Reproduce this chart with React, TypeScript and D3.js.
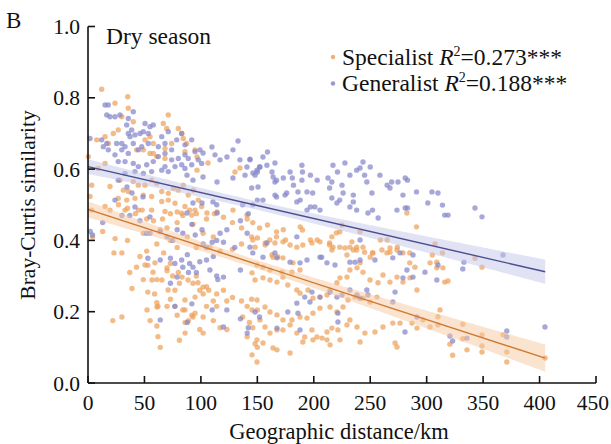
import React from "react";
import * as d3 from "d3";

// Pairwise site comparisons: [geographic distance (km), Bray-Curtis similarity]
const specialistPoints: [number, number][] = [
  [23.9,.785],[35.7,.771],[40.1,.733],[26.8,.710],[22.4,.700],[18.0,.672],[15.1,.691],[7.7,.682],[43.1,.654],[49.0,.654],
  [54.9,.644],[57.8,.644],[60.9,.635],[68.2,.630],[71.1,.752],[66.7,.728],[69.7,.714],[80.0,.714],[83.0,.700],[74.1,.672],
  [68.2,.658],[57.8,.672],[54.9,.691],[50.5,.682],[84.4,.686],[85.9,.649],[87.4,.672],[94.8,.654],[15.1,.616],[9.1,.602],
  [3.3,.555],[1.8,.523],[19.5,.551],[28.3,.569],[31.3,.541],[35.7,.537],[40.1,.565],[44.6,.555],[50.5,.555],[56.4,.569],
  [60.9,.560],[65.3,.537],[71.1,.532],[75.6,.546],[80.0,.541],[84.4,.555],[88.8,.527],[93.3,.541],[97.7,.513],[100.7,.495],
  [94.8,.485],[85.9,.495],[77.1,.504],[71.1,.513],[65.3,.509],[56.4,.523],[49.0,.527],[41.6,.518],[34.3,.513],[26.8,.518],
  [15.1,.495],[32.8,.485],[44.6,.485],[56.4,.485],[68.2,.481],[83.0,.476],[91.9,.471],[3.3,.485],[0.3,.635],
  [12.1,.824],[35.2,.803],[29.9,.747],[106.3,.617],[130.2,.592],[134.6,.603],[96.6,.634],[96.6,.597],[105.4,.477],[114.3,.480],
  [128.4,.485],[140.8,.471],
  [4,.41],[13,.425],[24,.405],[30,.365],[23,.365],[37,.31],[39,.265],[22,.175],[30,.185],[46,.355],
  [43,.325],[52,.37],[53,.33],[49,.29],[61,.29],[59,.25],[61,.225],[62,.215],[61,.16],[62,.13],
  [64,.10],[55,.175],[67,.365],[73,.335],[70,.315],[75,.30],[80,.31],[81,.28],[77,.26],[73,.235],
  [70,.215],[77,.215],[79,.19],[84,.205],[86,.17],[86,.14],[81,.12],[89,.175],[92,.19],[93,.185],
  [93,.28],[96,.30],[99,.26],[102,.25],[105,.27],[107,.26],[111,.23],[114,.215],[105,.215],[102,.185],
  [111,.175],[117,.155],[123,.15],[99,.15],[102,.14],[114,.25],[120,.26],[123,.23],[128,.24],[136,.23],
  [141,.215],[145,.235],[150,.205],[137,.185],[143,.17],[146,.155],[141,.13],[148,.11],[150,.10],
  [19.5,.485],[27,.50],[35,.49],[42,.475],[48,.485],[52,.46],[58,.455],[66,.46],[73,.475],[79,.48],
  [84,.47],[90,.485],[96,.475],[105,.46],[112,.475],[120,.465],[128,.45],[136,.435],[141,.46],[146,.45],
  [79,.45],[70,.435],[64,.43],[93,.445],[102,.42],[111,.41],[49,.42],[35,.40],[73,.40],[61,.39],
  [88,.41],[79,.38],[96,.38],[108,.38],[117,.37],[128,.375],[136,.39],[145,.41],
  [50.5,.331],[59.3,.337],[57.6,.311],[70,.323],[56.7,.289],[65.5,.289],[53,.255],[70.9,.261],[83.3,.297],[88.6,.289],
  [97.4,.281],[101.9,.269],[94.8,.241],[85.9,.233],[61.1,.213],[52.3,.205],[85.9,.205],[94.8,.196],
  [152,.435],[159,.443],[167,.424],[173,.43],[188,.438],[190,.429],[175,.401],[167,.41],[161,.401],[150,.407],
  [148,.381],[157,.387],[163,.36],[168,.354],[197,.401],[203,.401],[214,.393],[217,.381],[220,.421],[223,.424],
  [225,.443],[216,.41],[232,.381],[235,.373],[241,.424],[238,.381],[245,.367],[252,.365],[259,.401],[265,.401],
  [267.5,.367],[274,.381],[291,.438],[285,.365],[305,.359],[314,.365],[282.5,.477],
  [146,.401],[157,.393],[165.6,.393],[172.7,.396],[179,.387],[185,.381],[190.3,.387],[198.4,.393],[205.5,.396],[214,.387],
  [216,.373],[223,.381],[227.6,.379],[229.4,.359],[233.8,.396],[238,.373],[243.6,.381],[250,.353],[252.4,.365],[260.4,.373],
  [264.8,.365],[267.5,.379],[273.7,.373],[279,.365],[285,.337],[289.6,.325],[303,.337],[309,.339],[316,.283],
  [163.9,.353],[172.7,.351],[181.6,.337],[187.8,.317],[180.7,.311],[171.8,.311],[161.2,.317],[155,.325],[149.7,.331],[145.3,.309],
  [148,.289],[155,.295],[161.2,.289],[167.4,.283],[172.7,.297],[177,.275],[185,.261],[187.8,.252],[194.9,.261],[199.3,.238],
  [205.5,.241],[211.7,.247],[214.4,.261],[220.5,.281],[223.2,.295],[229.4,.297],[232,.317],[238.3,.323],[241,.337],[243.6,.311],
  [249.8,.289],[256.9,.281],[261.3,.303],[267.5,.283],[273.7,.297],[279,.283],[285.2,.295],[291.4,.261],[256,.241],[249.8,.227],
  [243.6,.238],[236.5,.241],[230.3,.233],[225.9,.213],[220.5,.199],[214.4,.213],[205.5,.210],[199.3,.196],[194,.182],[187.8,.185],
  [180.7,.177],[172.7,.177],[167.4,.191],[161.2,.199],[156.8,.213],[149.7,.233],[145.3,.205],[152.3,.177],[156.8,.157],[161.2,.14],
  [167.4,.149],[172.7,.149],[179,.163],[185,.14],[192,.129],[198.4,.149],[202.8,.129],[207.3,.126],[211.7,.143],[216,.154],
  [221.4,.149],[229.4,.163],[232,.177],[238.3,.157],[245.3,.14],[254.2,.143],[261.3,.157],[270,.168],[276.4,.168],[287,.168],
  [291.4,.154],[296.7,.177],[303,.157],[311.8,.205],[211.7,.121],[223.2,.121],[241,.115],[272,.112],[273.7,.101],[149.7,.121],
  [155,.112],[163.9,.098],[167.4,.093],[179,.084],[190.3,.115],[199.3,.121],[214.4,.107],[149.7,.059],[145.3,.079],
  [307.4,.390],[309,.323],[314.4,.323],[318.9,.286],[342.8,.350],[349,.325],[310,.163],[310,.186],[332,.165],[320.6,.109],
  [323,.078],[332,.124],[335.7,.093],[349,.135],[349,.104],[349,.087],[367.6,.135],[371,.087],[371,.059],[404.8,.07],
];

const generalistPoints: [number, number][] = [
  [15.1,.780],[18.0,.780],[16.6,.752],[19.5,.747],[23.9,.747],[28.3,.752],[35.7,.742],[40.1,.761],[34.3,.724],[38.7,.710],
  [35.7,.700],[37.2,.691],[41.6,.696],[46.1,.700],[12.1,.682],[16.6,.672],[25.4,.672],[29.9,.672],[32.8,.663],[40.1,.672],
  [50.5,.728],[54.9,.719],[57.8,.724],[49.0,.705],[53.4,.700],[65.3,.691],[71.1,.705],[68.2,.672],[62.3,.663],[53.4,.672],
  [47.6,.663],[44.6,.654],[35.7,.644],[29.9,.654],[23.9,.640],[18.0,.654],[13.6,.663],[1.8,.686],[26.8,.621],[32.8,.621],
  [40.1,.616],[44.6,.607],[52.0,.612],[57.8,.621],[62.3,.635],[68.2,.644],[74.1,.654],[78.6,.682],[83.0,.700],[85.9,.668],
  [91.9,.682],[94.8,.649],[99.2,.654],[85.9,.640],[80.0,.630],[74.1,.626],[68.2,.607],[71.1,.593],[77.1,.607],[83.0,.612],
  [88.8,.630],[91.9,.612],[97.7,.626],[100.7,.616],[85.9,.602],[65.3,.597],[56.4,.593],[49.0,.588],[41.6,.593],[32.8,.588],
  [26.8,.569],[23.9,.513],
  [101.9,.645],[112.5,.640],[116.9,.626],[128.4,.654],[123.1,.634],[134.6,.626],[143.5,.628],[140.8,.606],[149.7,.597],[101.9,.578],
  [114.3,.564],[128.4,.575],[139.1,.583],[146.1,.589],[152.3,.606],[110.7,.508],[114.3,.477],
  [87.7,.583],[93.0,.569],[34.5,.550],[39.0,.533],[48.7,.522],[41.6,.494],[54.9,.466],[87.7,.477],[93.0,.505],[109.8,.662],
  [132.9,.679],
  [2,.425],[4,.415],[13,.45],[30,.47],[37,.47],[46,.455],[52,.42],[55,.42],[64,.425],[70,.41],
  [75,.40],[79,.43],[84,.42],[92,.445],[95,.415],[101,.43],[102,.39],[110,.395],[105,.38],[114,.40],
  [120,.395],[117,.42],[123,.43],[130,.38],[141,.42],[135,.455],[142,.475],[146,.50],[137,.50],[114,.50],
  [101,.505],
  [53,.35],[64,.345],[73,.35],[77,.335],[83,.345],[88,.36],[90,.335],[93,.325],[96,.31],[84,.325],
  [79,.297],[73,.28],[89,.31],[99,.34],[105,.345],[111,.355],[120,.297],[108,.317],[115,.29],[123,.205],
  [135,.18],[152,.185],[110,.205],[77,.215],[64,.177],[88,.17],[142,.155],[141,.14],[120,.157],[135,.317],
  [114,.30],[92,.222],
  [159,.648],[155,.634],[143.5,.626],[150,.592],[148,.583],[152,.606],[158.5,.611],[163,.592],[165.6,.617],[164,.578],
  [165.6,.564],[167,.569],[173,.575],[179,.592],[181,.575],[182,.555],[189.5,.611],[190,.592],[197,.583],[189.5,.569],
  [186,.536],[188,.513],[185,.508],[176,.533],[174.5,.527],[167,.522],[165.6,.527],[150.6,.55],[145,.547],[155,.513],
  [150,.513],[194,.536],[199,.533],[201,.494],[205.5,.485],[194,.485],[197,.494],[203,.569],[212.6,.575],[217,.611],
  [216,.564],[221,.592],[225,.555],[227.6,.617],[232,.583],[238,.597],[241,.603],[243.6,.62],[250,.606],[245,.583],
  [247,.564],[251.5,.533],[252,.485],[248,.477],[238,.485],[232,.494],[235,.508],[223,.513],[220.5,.505],[216,.519],
  [214,.547],[226,.533],[235,.527],[258.6,.583],[265,.555],[267.5,.547],[269,.564],[274.6,.564],[281,.575],[283,.569],
  [291,.536],[279,.527],[281,.491],[283,.491],[273.7,.485],[257,.463],[301,.505],[304.7,.536],[310,.533],[314,.499],
  [316,.471],[319,.471],[241,.401],[143.5,.381],[158.5,.393],[185,.41],[207,.353],
  [146,.365],[155,.353],[165.6,.365],[167.4,.351],[179,.339],[187.8,.337],[194,.345],[205.5,.353],[211.7,.337],[218.8,.331],
  [232,.339],[236.5,.339],[241,.345],[254.2,.345],[270,.351],[276.4,.365],[287.9,.359],[298.5,.311],[310,.331],[198.4,.255],
  [192,.241],[185,.224],[196.6,.227],[205.5,.241],[214.4,.255],[220.5,.241],[221.4,.196],[225,.247],[232,.261],[238.3,.247],
  [247,.261],[248,.247],[241,.238],[272,.255],[270,.227],[279,.295],[282.5,.317],[287.9,.297],[291.4,.185],[221.4,.171],
  [187.8,.149],[167.4,.154],[186,.196],[177,.199],[148,.199],[280.8,.143],[309,.289],
  [342.8,.491],[349,.466],[367.6,.359],[333,.339],[332,.32],[404.8,.157],[371,.146],[371,.129],[335.7,.126],[320.6,.132],
  [323,.118],
];

// Linear fits (similarity = intercept + slope * distance) and their confidence bands
const fitNames = ["Specialist", "Generalist"];
const fitIntercept = [0.487, 0.607];
const fitSlope = [-0.00103, -0.000728];
const fitXMax = [405, 405];
const bandHalfMin = [0.012, 0.012];
const bandCentre = [140, 140];
const bandSpread = [88, 100];

const legendLabels = ["Specialist", "Generalist"];
const legendR2 = ["0.273", "0.188"];

const xTicks = [0, 50, 100, 150, 200, 250, 300, 350, 400, 450];
const yTicks = [0, 0.2, 0.4, 0.6, 0.8, 1.0];

const W = 611;
const H = 444;
const FONT = "'Liberation Serif', 'Times New Roman', Times, serif";

const dotColor = ["#EDA15A", "#8587CB"];
const lineColor = ["#D0782E", "#4A4E8E"];
const bandColor = ["#F6C89F", "#C3C6EA"];

export default function App() {
  const x = d3.scaleLinear().domain([0, 450]).range([88, 596]);
  const y = d3.scaleLinear().domain([0, 1]).range([383, 26.5]);

  const bands = fitNames.map((_, i) => {
    const fy = (d: number) => fitIntercept[i] + fitSlope[i] * d;
    const hw = (d: number) =>
      bandHalfMin[i] * Math.sqrt(1 + ((d - bandCentre[i]) / bandSpread[i]) ** 2);
    const xs = d3.range(0, fitXMax[i], 2).concat([fitXMax[i]]);
    const area = d3.area<number>()
      .x((d) => x(d))
      .y0((d) => y(fy(d) - hw(d)))
      .y1((d) => y(fy(d) + hw(d)));
    const line = d3.line<number>().x((d) => x(d)).y((d) => y(fy(d)));
    return { area: area(xs) || "", line: line([0, fitXMax[i]]) || "" };
  });

  const series = [specialistPoints, generalistPoints];
  const last = xTicks[xTicks.length - 1];

  return (
    <svg width={W} height={H} viewBox={`0 0 ${W} ${H}`}
      style={{ position: "absolute", left: 0, top: 0, background: "#fff" }}
      fontFamily={FONT} fill="#111">
      <rect x={0} y={0} width={W} height={H} fill="#fff" />

      {series.map((pts, si) => (
        <g key={si} fill={dotColor[si]} fillOpacity={0.72}>
          {pts.map((p, j) => (
            <circle key={j} cx={x(p[0])} cy={y(p[1])} r={2.7} />
          ))}
        </g>
      ))}

      {bands.map((b, i) => (
        <path key={"b" + i} d={b.area} fill={bandColor[i]} fillOpacity={0.5} />
      ))}
      {bands.map((b, i) => (
        <path key={"l" + i} d={b.line} stroke={lineColor[i]} strokeWidth={1.4} fill="none" />
      ))}

      {/* axes */}
      <g stroke="#111" strokeWidth={1.6} fill="none">
        <line x1={x(0)} x2={x(0)} y1={y(1)} y2={y(0)} />
        <line x1={x(0)} x2={x(last)} y1={y(0)} y2={y(0)} />
        {yTicks.map((t) => (
          <line key={"yt" + t} x1={x(0)} x2={x(0) + 7} y1={y(t)} y2={y(t)} />
        ))}
        {xTicks.map((t) => (
          <line key={"xt" + t} x1={x(t)} x2={x(t)} y1={y(0)} y2={y(0) - 7} />
        ))}
      </g>
      {yTicks.map((t) => (
        <text key={"yl" + t} x={80} y={y(t) + 7.5} fontSize={21.5} textAnchor="end">
          {t.toFixed(1)}
        </text>
      ))}
      {xTicks.map((t) => (
        <text key={"xl" + t} x={t === last ? W - 2 : x(t)} y={410} fontSize={21.5}
          textAnchor={t === last ? "end" : "middle"}>
          {t}
        </text>
      ))}

      <text x={339} y={439} fontSize={22.5} textAnchor="middle">Geographic distance/km</text>
      <text transform="translate(35,205) rotate(-90)" fontSize={21.5} textAnchor="middle">
        Bray-Curtis similarity
      </text>
      <text x={6} y={27.5} fontSize={23}>B</text>
      <text x={106} y={44} fontSize={23.5}>Dry season</text>

      {legendLabels.map((lab, i) => (
        <g key={"lg" + i}>
          <circle cx={333} cy={57 + i * 26.5} r={2.2} fill={dotColor[i]} fillOpacity={0.85} />
          <text x={342} y={64.5 + i * 26.5} fontSize={23.5}>
            {lab + " "}
            <tspan fontStyle="italic">R</tspan>
            <tspan fontSize={14} dy={-9}>2</tspan>
            <tspan dy={9}>{"=" + legendR2[i] + "***"}</tspan>
          </text>
        </g>
      ))}
    </svg>
  );
}
